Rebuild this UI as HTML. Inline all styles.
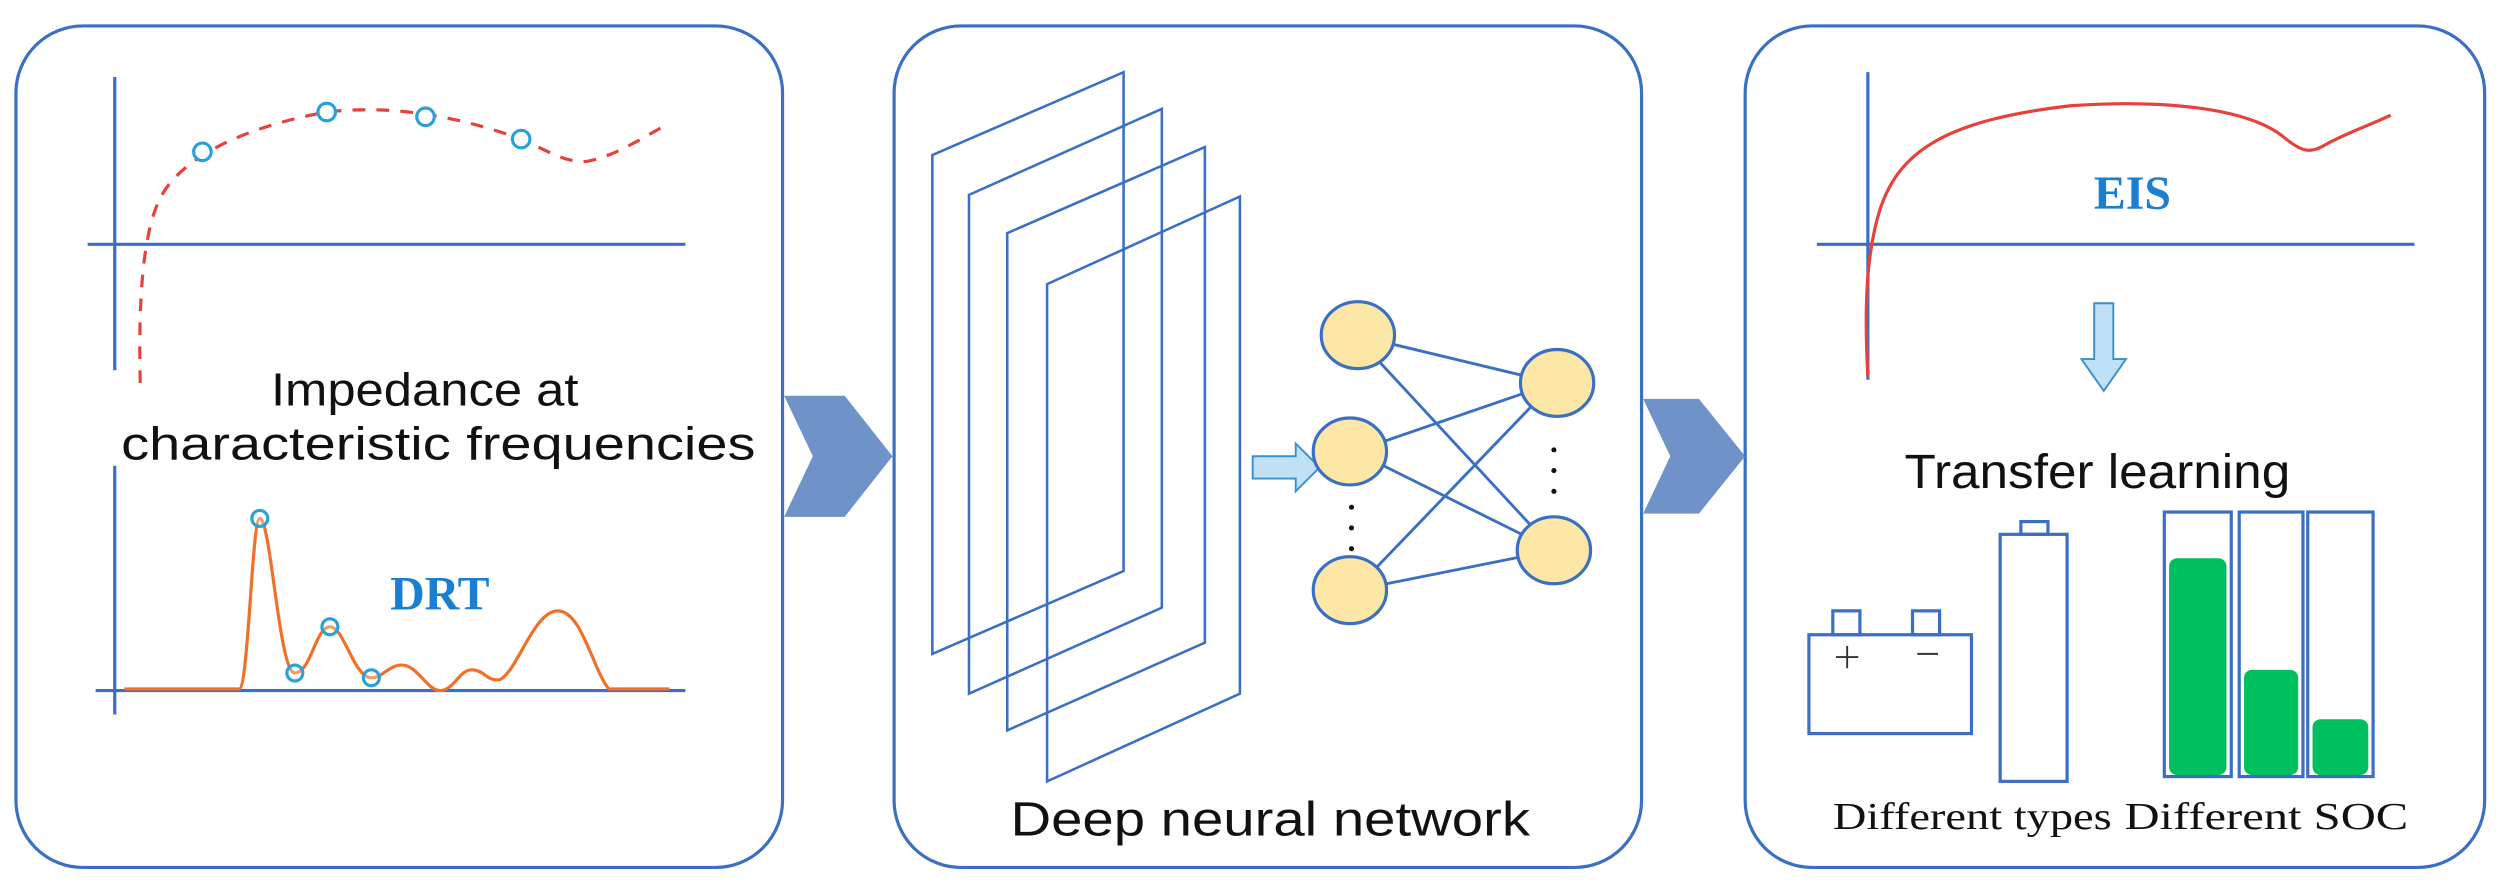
<!DOCTYPE html>
<html><head><meta charset="utf-8"><style>
html,body{margin:0;padding:0;background:#fff;}
svg{display:block;}
.s{font-family:"Liberation Sans","DejaVu Sans",sans-serif;}
.t{font-family:"Liberation Serif",serif;}
</style></head><body>
<svg width="2499" height="887" viewBox="0 0 1568 556" xmlns="http://www.w3.org/2000/svg">
<g fill="none" stroke="#3a6fc4" stroke-width="2">
<rect x="10" y="16" width="481" height="528" rx="42"/>
<rect x="561" y="16" width="469" height="528" rx="42"/>
<rect x="1095" y="16" width="464" height="528" rx="42"/>
</g>
<polygon points="492,248 530,248 560,286 530,324 492,324 510,286" fill="#6f93c9"/>
<polygon points="1031,250 1066,250 1095,286 1066,322 1031,322 1048,286" fill="#6f93c9"/>
<g stroke="#3a6fc4" stroke-width="2">
<line x1="72" y1="48" x2="72" y2="232"/>
<line x1="55" y1="153" x2="430" y2="153"/>
<line x1="72" y1="292" x2="72" y2="448"/>
<line x1="60" y1="433" x2="430" y2="433"/>
</g>
<path d="M88,240 C87,200 88,150 100,125 C112,100 150,80 205,70 C240,66 280,70 327,87 C345,95 355,102 368,101 C385,98 400,88 420,77" fill="none" stroke="#e8403a" stroke-width="2" stroke-dasharray="8,7"/>
<g fill="#fff" stroke="#2aa0d8" stroke-width="2">
<circle cx="127" cy="95" r="5.5"/><circle cx="205" cy="70" r="5.5"/><circle cx="267" cy="73" r="5.5"/><circle cx="327" cy="87" r="5.5"/>
</g>
<text x="170" y="254" textLength="193" lengthAdjust="spacingAndGlyphs" class="s" font-size="29" fill="#111">Impedance at</text>
<text x="76" y="288" textLength="398" lengthAdjust="spacingAndGlyphs" class="s" font-size="29" fill="#111">characteristic frequencies</text>
<path d="M78,432 L150,432 C156,432 158,325 163,325 C170,325 175,422 185,422 C195,422 198,393 207,393 C216,393 222,425 233,425 C240,425 244,417 252,417 C262,417 268,433 276,433 C285,433 288,420 296,420 C304,420 306,428 314,426 C325,420 335,383 350,383 C365,383 372,420 382,432 L420,432" fill="none" stroke="#f0702a" stroke-width="2"/>
<g fill="#fff" fill-opacity="0.3" stroke="#2aa0d8" stroke-width="2">
<circle cx="163" cy="325" r="5"/><circle cx="185" cy="422" r="5"/><circle cx="207" cy="393" r="5"/><circle cx="233" cy="425" r="5"/>
</g>
<text x="276" y="382" text-anchor="middle" class="t" font-weight="bold" font-size="30" fill="#1a7fd0">DRT</text>
<g fill="none" stroke="#3a6fc4" stroke-width="1.6">
<polygon points="585,97 705,45 705,358 585,410"/>
<polygon points="608,122 729,68 729,381 608,435"/>
<polygon points="632,146 756,92 756,403 632,458"/>
<polygon points="657,178 778,123 778,435 657,490"/>
</g>
<polygon points="786,286 813,286 813,278 828,293 813,308 813,300 786,300" fill="#bfe0f5" stroke="#3a8fd0" stroke-width="1.2"/>
<g stroke="#3a6fc4" stroke-width="1.8">
<line x1="850" y1="210" x2="975" y2="240"/><line x1="850" y1="210" x2="975" y2="345"/>
<line x1="850" y1="283" x2="975" y2="240"/><line x1="850" y1="283" x2="975" y2="345"/>
<line x1="850" y1="370" x2="975" y2="240"/><line x1="850" y1="370" x2="975" y2="345"/>
</g>
<g fill="#fde7a7" stroke="#3a6fc4" stroke-width="2">
<ellipse cx="852" cy="210" rx="23" ry="21"/><ellipse cx="847" cy="283" rx="23" ry="21"/><ellipse cx="847" cy="370" rx="23" ry="21"/>
<ellipse cx="977" cy="240" rx="23" ry="21"/><ellipse cx="975" cy="345" rx="23" ry="21"/>
</g>
<g fill="#111"><circle cx="848" cy="318" r="1.6"/><circle cx="848" cy="331" r="1.6"/><circle cx="848" cy="344" r="1.6"/>
<circle cx="975" cy="282" r="1.6"/><circle cx="975" cy="295" r="1.6"/><circle cx="975" cy="308" r="1.6"/></g>
<text x="634" y="524" textLength="326" lengthAdjust="spacingAndGlyphs" class="s" font-size="30" fill="#111">Deep neural network</text>
<g stroke="#3a6fc4" stroke-width="2">
<line x1="1172" y1="45" x2="1172" y2="238"/>
<line x1="1140" y1="153" x2="1515" y2="153"/>
</g>
<path d="M1172,236 C1170,200 1170,160 1180,130 C1192,95 1220,75 1300,66 C1360,62 1410,68 1432,85 C1445,96 1450,96 1460,90 C1475,82 1490,77 1500,72" fill="none" stroke="#e8403a" stroke-width="2"/>
<text x="1338" y="131" text-anchor="middle" class="t" font-weight="bold" font-size="30" fill="#1a7fd0">EIS</text>
<polygon points="1314,190 1326,190 1326,225 1334,225 1320,245 1306,225 1314,225" fill="#bfe0f5" stroke="#3a8fd0" stroke-width="1.2"/>
<text x="1195" y="306" textLength="242" lengthAdjust="spacingAndGlyphs" class="s" font-size="30" fill="#111">Transfer learning</text>
<g fill="none" stroke="#3a6fc4" stroke-width="2">
<rect x="1135" y="398" width="102" height="62"/>
<rect x="1150" y="383" width="17" height="15"/><rect x="1200" y="383" width="17" height="15"/>
<rect x="1255" y="335" width="42" height="155"/>
<rect x="1268" y="327" width="17" height="8"/>
</g>
<g stroke="#333" stroke-width="1.2"><line x1="1152" y1="412" x2="1166" y2="412"/><line x1="1159" y1="405" x2="1159" y2="419"/><line x1="1203" y1="410" x2="1216" y2="410"/></g>
<g fill="#00bf5f">
<rect x="1361" y="350" width="36" height="136" rx="5"/>
<rect x="1408" y="420" width="34" height="66" rx="5"/>
<rect x="1451" y="451" width="35" height="35" rx="5"/>
</g>
<g fill="none" stroke="#3a6fc4" stroke-width="2">
<rect x="1358" y="321" width="42" height="166"/>
<rect x="1405" y="321" width="40" height="166"/>
<rect x="1448" y="321" width="41" height="166"/>
</g>
<text x="1150" y="520" textLength="175" lengthAdjust="spacingAndGlyphs" class="t" font-size="24" fill="#111">Different types</text>
<text x="1333" y="520" textLength="178" lengthAdjust="spacingAndGlyphs" class="t" font-size="24" fill="#111">Different SOC</text>
</svg>
</body></html>
